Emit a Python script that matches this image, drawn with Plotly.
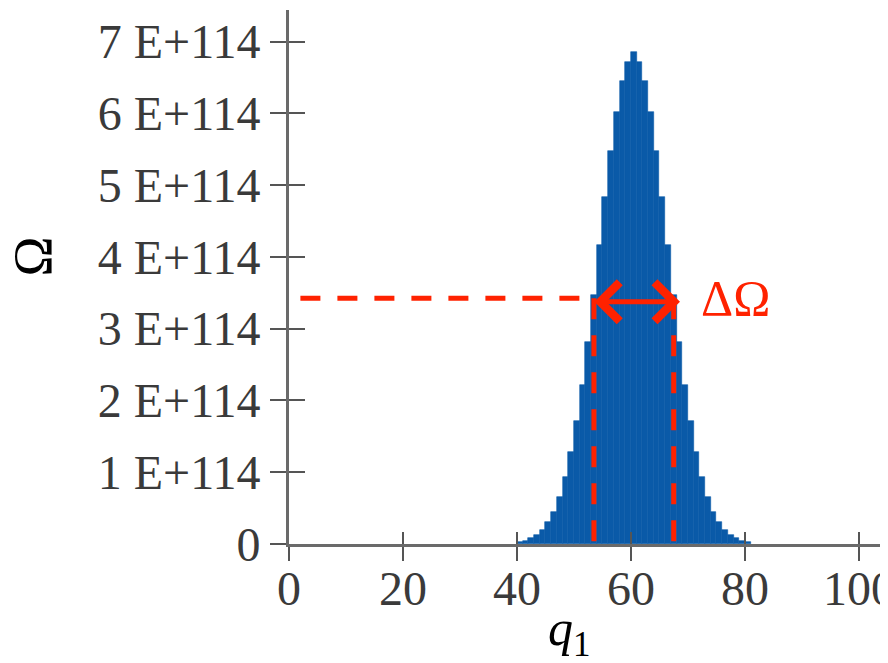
import plotly.graph_objects as go

# ---- data ----
Q1 = list(range(40, 81))
OMEGA_E114 = [0.026, 0.045, 0.077, 0.12, 0.20, 0.30, 0.45, 0.65, 0.93, 1.28,
              1.71, 2.22, 2.82, 3.47, 4.16, 4.84, 5.47, 6.02, 6.45, 6.72,
              6.85,
              6.72, 6.45, 6.02, 5.47, 4.84, 4.16, 3.47, 2.82, 2.22, 1.71,
              1.28, 0.93, 0.65, 0.45, 0.30, 0.20, 0.12, 0.077, 0.045, 0.026]
OMEGA = [v * 1e114 for v in OMEGA_E114]

X_TICKS = [0, 20, 40, 60, 80, 100]
Y_TICKVALS = [i * 1e114 for i in range(8)]
Y_TICKTEXT = ["0", "1 E+114", "2 E+114", "3 E+114", "4 E+114",
              "5 E+114", "6 E+114", "7 E+114"]

DELTA_Q = [53.5, 67.5]      # q1 where Omega falls to half its maximum
DASH_START_Q = 2.0
HALF = max(OMEGA) / 2

X_RANGE = [0, 105.1]
Y_RANGE = [0, 7.44e114]

RED = "#ff2200"
BLUE = "#0a5aa8"
AXIS = "#6a6a6a"
TXT = "#3a3a3a"
SERIF = "Liberation Serif, Times New Roman, serif"

fig = go.Figure()

fig.add_trace(go.Bar(
    x=Q1, y=OMEGA, offset=0, width=1,
    marker=dict(color=BLUE, line=dict(width=0.6, color=BLUE)),
    showlegend=False, hoverinfo="skip"))

# half-maximum guide lines
fig.add_trace(go.Scatter(
    x=[DASH_START_Q, DELTA_Q[0]], y=[HALF, HALF], mode="lines",
    line=dict(color=RED, width=5, dash="20px,17px"),
    showlegend=False, hoverinfo="skip"))
for q in DELTA_Q:
    fig.add_trace(go.Scatter(
        x=[q, q], y=[HALF, 0], mode="lines",
        line=dict(color=RED, width=5, dash="21px,16px"),
        showlegend=False, hoverinfo="skip"))

# dummy trace to host the inner-tick overlay axes
fig.add_trace(go.Scatter(x=[None], y=[None], xaxis="x2", yaxis="y2",
                         showlegend=False, hoverinfo="skip"))

# double-headed arrow
fig.add_annotation(
    x=DELTA_Q[1] + 1.1, y=HALF * 0.985, ax=DELTA_Q[0] - 0.2, ay=HALF * 0.985,
    xref="x", yref="y", axref="x", ayref="y",
    text="", showarrow=True, arrowhead=4, startarrowhead=4,
    arrowside="end+start", arrowsize=1.5, startarrowsize=1.5,
    arrowwidth=5, arrowcolor=RED, standoff=0, startstandoff=0)
fig.add_annotation(
    x=DELTA_Q[1], y=HALF, xref="x", yref="y",
    text="ΔΩ", showarrow=False, xanchor="left", yanchor="middle",
    xshift=25, font=dict(family=SERIF, size=50, color=RED))

# axis titles
fig.add_annotation(
    x=0.469, y=-0.165, xref="paper", yref="paper",
    text="<i>q</i><sub>1</sub>", showarrow=False,
    xanchor="center", yanchor="middle",
    font=dict(family=SERIF, size=50, color="black"))
fig.add_annotation(
    x=-0.427, y=0.539, xref="paper", yref="paper",
    text="Ω", showarrow=False, textangle=-90,
    xanchor="center", yanchor="middle",
    font=dict(family=SERIF, size=54, color="black"))

common_tick = dict(tickcolor="#555555", tickwidth=2)

fig.update_layout(
    width=880, height=655,
    margin=dict(l=281, r=0, t=2, b=119),
    paper_bgcolor="white", plot_bgcolor="white",
    bargap=0,
    xaxis=dict(range=X_RANGE, tickvals=X_TICKS, ticks="outside", ticklen=14,
               showline=True, linecolor=AXIS, linewidth=3, showgrid=False,
               zeroline=False, ticklabelstandoff=-14, automargin=False,
               ticklabeloverflow="allow",
               tickfont=dict(family=SERIF, size=48, color=TXT),
               **common_tick),
    yaxis=dict(range=Y_RANGE, tickvals=Y_TICKVALS, ticktext=Y_TICKTEXT,
               ticks="outside", ticklen=16,
               showline=True, linecolor=AXIS, linewidth=3, showgrid=False,
               zeroline=False, ticklabelstandoff=0, automargin=False,
               tickfont=dict(family=SERIF, size=48, color=TXT),
               **common_tick),
    xaxis2=dict(range=X_RANGE, tickvals=X_TICKS, ticks="inside", ticklen=12,
                overlaying="x", anchor="y", showticklabels=False,
                automargin=False,
                showgrid=False, zeroline=False, showline=False, **common_tick),
    yaxis2=dict(range=Y_RANGE, tickvals=Y_TICKVALS, ticks="inside", ticklen=16,
                overlaying="y", anchor="x", showticklabels=False,
                automargin=False,
                showgrid=False, zeroline=False, showline=False, **common_tick),
)

fig.write_html("out.html")
